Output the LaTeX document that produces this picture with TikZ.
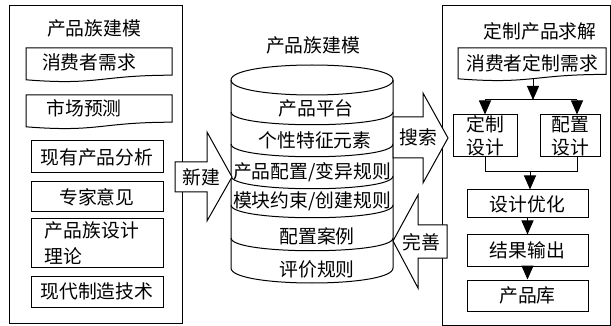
\documentclass[tikz,border=0pt]{standalone}
\usepackage{fontspec}
\newfontfamily\cjk{Noto Sans CJK SC}
\usetikzlibrary{arrows.meta}

\begin{document}
\begin{tikzpicture}[x=0.5pt, y=-0.5pt, line width=0.5pt,
        font=\cjk\fontsize{9.4}{11.5}\selectfont,
        box/.style = {draw, inner sep=0pt, align=center},
        tri/.style = {-{Triangle[width=6pt, length=7pt]}} ]
        \useasboundingbox (0,0) rectangle (611,326);

        % left frame
        \draw (9,6) rectangle (182,323);
        \node at (94,28) (lefttitle) {产品族建模};
        \draw (26,48) -- (172,48) -- (172,75.2) .. controls (99,75.2) and (99,85.6) .. (26,79.8) -- cycle;
        \node at (89,62) (demand) {消费者需求};
        \draw (26,95) -- (172,95) -- (172,122.2) .. controls (99,122.2) and (99,132.6) .. (26,126.8) -- cycle;
        \node at (84,108) (forecast) {市场预测};
        \node at (97,157) [box, minimum width=66pt, minimum height=16pt] (existing) {现有产品分析};
        \node at (97,197) [box, minimum width=66pt, minimum height=15pt] (expert) {专家意见};
        \node at (97,243) [box, minimum width=66pt, minimum height=24pt, align=left, text width=52pt] (theory) {产品族设计\\[1.5pt]理论};
        \node at (97,291.5) [box, minimum width=66pt, minimum height=15.5pt] (modern) {现代制造技术};

        % database
        \node at (313,45) (dbtitle) {产品族建模};
        \draw (231,80) .. controls (231,60) and (393,60) .. (393,80) .. controls (393,100) and (231,100) .. (231,80);
        \draw (231,80) -- (231,268) .. controls (231,288) and (393,288) .. (393,268) -- (393,80);
        \foreach \s in {112,144,176,205,238}
            \draw (231,\s) .. controls (231,\s+17) and (393,\s+17) .. (393,\s);
        \node at (316,108) (platform) {产品平台};
        \node at (315,140) (feature) {个性特征元素};
        \node at (312,172) (rules) {产品配置/变异规则};
        \node at (312,201) (constraint) {模块约束/创建规则};
        \node at (317,236) (cases) {配置案例};
        \node at (317,269) (evaluate) {评价规则};

        % right frame
        \draw (442,6) rectangle (610,325);
        \node at (540,31) (righttitle) {定制产品求解};
        \draw (458,48) -- (606,48) -- (606,74.4) .. controls (532,74.4) and (532,84.5) .. (458,78.8) -- cycle;
        \node at (532,63) (request) {消费者定制需求};
        \node at (485,136) [box, minimum width=32pt, minimum height=21pt] (custom) {定制\\设计};
        \node at (570,136) [box, minimum width=30pt, minimum height=21pt] (config) {配置\\设计};
        \node at (527.5,204) [box, minimum width=60.5pt, minimum height=14pt] (optimize) {设计优化};
        \node at (527.5,250.5) [box, minimum width=60.5pt, minimum height=15.5pt] (output) {结果输出};
        \node at (527.5,295.5) [box, minimum width=60.5pt, minimum height=15.5pt] (library) {产品库};

        \coordinate (reqbot) at (533,79);
        \coordinate (split) at (533,100);
        \coordinate (splitL) at (485,100);
        \coordinate (splitR) at (577,100);
        \coordinate (merge) at (530,172);
        \draw[tri] (reqbot) -- (split);
        \draw (splitL) -- (splitR);
        \draw[tri] (splitL) -- (custom.north);
        \draw[tri] (splitR) -- (splitR |- config.north);
        \draw (custom.south) -- (custom.south |- merge) -- (splitR |- merge) -- (splitR |- config.south);
        \draw[tri] (merge) -- (merge |- optimize.north);
        \draw[tri] (optimize) -- (output);
        \draw[tri] (output) -- (library);

        % block arrows
        \draw[fill=white] (175,162) -- (207,162) -- (207,132) -- (232,177) -- (207,221) -- (207,192) -- (175,192) -- cycle;
        \node at (201,177) (build) {新建};
        \draw[fill=white] (393,117) -- (423,117) -- (423,93) -- (448,138) -- (423,183) -- (423,158) -- (393,158) -- cycle;
        \node at (418,137) (search) {搜索};
        \draw[fill=white] (447,225) -- (418,225) -- (418,195) -- (393,241) -- (418,288) -- (418,258) -- (447,258) -- cycle;
        \node at (421,242) (improve) {完善};
    \end{tikzpicture}
\end{document}
